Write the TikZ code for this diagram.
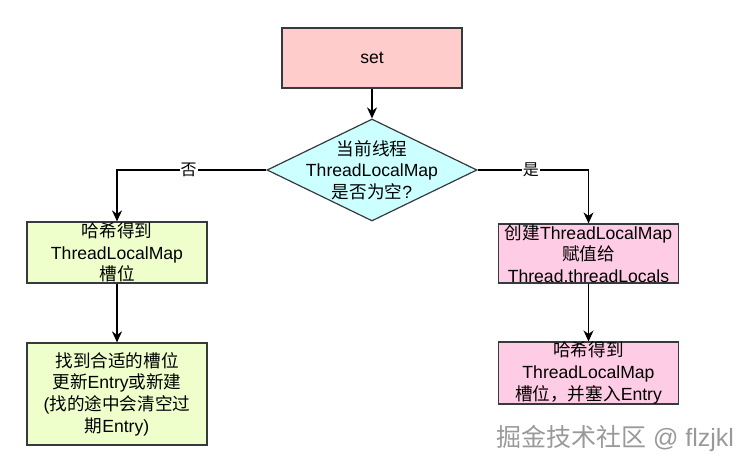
\documentclass[tikz,border=0pt]{standalone}
\usepackage{fontspec}
\setmainfont{Liberation Sans}
\newfontfamily\zh{Noto Sans CJK SC}
\usetikzlibrary{arrows.meta,shapes.geometric}
\definecolor{setred}{HTML}{FFCCCC}
\definecolor{askcyan}{HTML}{CCFFFF}
\definecolor{hashgreen}{HTML}{EEFFCC}
\definecolor{makepink}{HTML}{FFCCE6}
\definecolor{edgegray}{HTML}{36393D}

\begin{document}
\begin{tikzpicture}[x=1pt,y=-1pt]
\tikzstyle{every node}=[font=\fontsize{17.6}{21.7}\selectfont]
\tikzstyle{box}=[draw=edgegray,line width=1.2pt,inner sep=0pt,align=center,minimum width=180pt]
\tikzstyle{ask}=[diamond,draw=edgegray,fill=askcyan,line width=1.2pt,inner sep=0pt,minimum width=210pt,minimum height=102pt]
\tikzstyle{tag}=[fill=white,inner sep=1pt,font=\fontsize{16}{16}\selectfont\zh]
\tikzstyle{arr}=[draw=black,line width=1.3pt,-{Stealth[length=11pt,width=10pt,inset=3.5pt]}]
\useasboundingbox (0,0) rectangle (751,470);
 \draw
 (372,58)         node[box,fill=setred,minimum height=60pt] (set) {set}
 ++(0,112)        node[ask,label={[align=center]center:{\zh 当前线程}\\ThreadLocalMap\\{\zh 是否为空}?}] (ask) {}
 ++(-255,82.5)    node[box,fill=hashgreen,minimum height=61pt] (hash) {{\zh 哈希得到}\\ThreadLocalMap\\{\zh 槽位}}
 ++(0,141.5)      node[box,fill=hashgreen,minimum height=102pt] (find) {{\zh 找到合适的槽位}\\{\zh 更新}Entry{\zh 或新建}\\({\zh 找的途中会清空过}\\{\zh 期}Entry)}
 ++(471.5,-140.5) node[box,fill=makepink,minimum height=59pt] (make) {{\zh 创建}ThreadLocalMap\\{\zh 赋值给}\\Thread.threadLocals}
 ++(0,119.5)      node[box,fill=makepink,minimum height=60pt] (put) {{\zh 哈希得到}\\ThreadLocalMap\\{\zh 槽位，并塞入}Entry}
 ;
 \path[arr]
 (set)  edge (ask)
 (hash) edge (find)
 (make) edge (put)
 ;
 \draw[arr] (ask.west) -| node[tag,pos=0.26] {否} (hash);
 \draw[arr] (ask.east) -| node[tag,pos=0.24] {是} (make);
 \node[text=black!40,font=\fontsize{25}{25}\selectfont] (mark) at (615,438) {{\zh 掘金技术社区} @ flzjkl};
\end{tikzpicture}
\end{document}
